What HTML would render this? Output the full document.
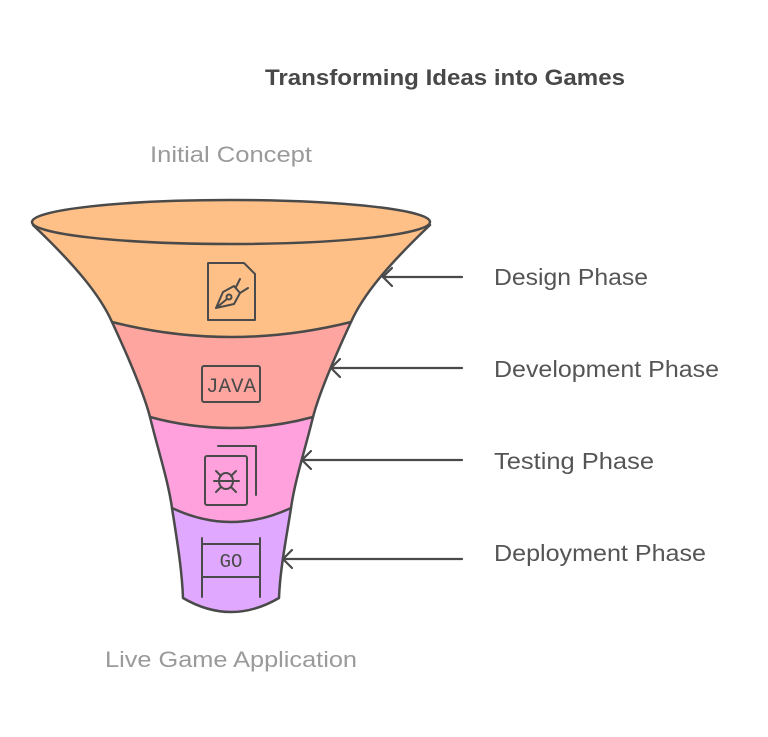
<!DOCTYPE html>
<html><head><meta charset="utf-8"><style>
html,body{margin:0;padding:0;background:#fff;}
svg{display:block;}
</style></head><body>
<svg width="768" height="737" viewBox="0 0 768 737" xmlns="http://www.w3.org/2000/svg" font-family="Liberation Sans, sans-serif">
<rect width="768" height="737" fill="#fff"/>
<text x="265" y="85" font-size="22" font-weight="bold" fill="#484848" textLength="360" lengthAdjust="spacingAndGlyphs">Transforming Ideas into Games</text>
<text x="150" y="162" font-size="22" fill="#9a9a9a" textLength="162" lengthAdjust="spacingAndGlyphs">Initial Concept</text>
<text x="105" y="667" font-size="22" fill="#9a9a9a" textLength="252" lengthAdjust="spacingAndGlyphs">Live Game Application</text>

<g stroke="#4a4a4a" stroke-width="2.5" stroke-linejoin="round">
<path d="M172,508 C177,540 182,570 183,598 Q231,626 279,598 C280,570 286,540 291,508 Z" fill="#E0A8FE"/>
<path d="M150,417 C158,450 168,480 172,508 Q231,536 291,508 C295,480 305,450 313,417 Z" fill="#FEA1DC"/>
<path d="M112,322 C125,350 143,390 150,417 Q231,439 313,417 C320,390 338,350 351,322 Z" fill="#FEA59F"/>
<path d="M33,225 C75,265 100,295 112,322 Q231,352 351,322 C363,295 388,265 430,225 Z" fill="#FEC087"/>
<ellipse cx="231" cy="222" rx="199" ry="22" fill="#FEC087"/>
</g>

<g stroke="#4a4a4a" stroke-width="2.2" fill="none" stroke-linecap="round">
<line x1="383" y1="277" x2="462" y2="277"/><path d="M392,268 L383,277 L392,286"/>
<line x1="331" y1="368" x2="462" y2="368"/><path d="M340,359 L331,368 L340,377"/>
<line x1="302" y1="460" x2="462" y2="460"/><path d="M311,451 L302,460 L311,469"/>
<line x1="283" y1="559" x2="462" y2="559"/><path d="M292,550 L283,559 L292,568"/>
</g>

<g font-size="23" fill="#555">
<text x="494" y="285" textLength="154" lengthAdjust="spacingAndGlyphs">Design Phase</text>
<text x="494" y="377" textLength="225" lengthAdjust="spacingAndGlyphs">Development Phase</text>
<text x="494" y="469" textLength="160" lengthAdjust="spacingAndGlyphs">Testing Phase</text>
<text x="494" y="561" textLength="212" lengthAdjust="spacingAndGlyphs">Deployment Phase</text>
</g>

<g stroke="#4a4a4a" stroke-width="2" fill="none" stroke-linecap="round" stroke-linejoin="round">
<path d="M208,263 L244,263 L255,274 L255,320 L208,320 Z"/>
<path d="M216,308 L223,292 L234,286 L240,293 L234,304 Z"/>
<circle cx="229" cy="297" r="2.5"/>
<path d="M216,308 L227,299"/>
<path d="M236,287 L240,279 M240,293 L248,288"/>
<rect x="202" y="366" width="58" height="36" rx="2"/>
<rect x="205" y="456" width="42" height="49" rx="2"/>
<path d="M218,446 L256,446 L256,495"/>
<ellipse cx="226" cy="481" rx="7" ry="8"/>
<path d="M219,481 L233,481 M214,481 L219,481 M233,481 L239,481 M216,471 L221,476 M236,471 L231,476 M216,492 L221,487 M236,492 L231,487"/>
<path d="M202,538 L202,597 M260,538 L260,597 M202,544 L260,544 M202,577 L260,577"/>
</g>
<text x="231" y="392" font-family="Liberation Mono, monospace" font-size="20" fill="#4a4a4a" text-anchor="middle" textLength="50" lengthAdjust="spacingAndGlyphs">JAVA</text>
<text x="231" y="567" font-family="Liberation Mono, monospace" font-size="19" fill="#4a4a4a" text-anchor="middle">GO</text>
</svg>
</body></html>
